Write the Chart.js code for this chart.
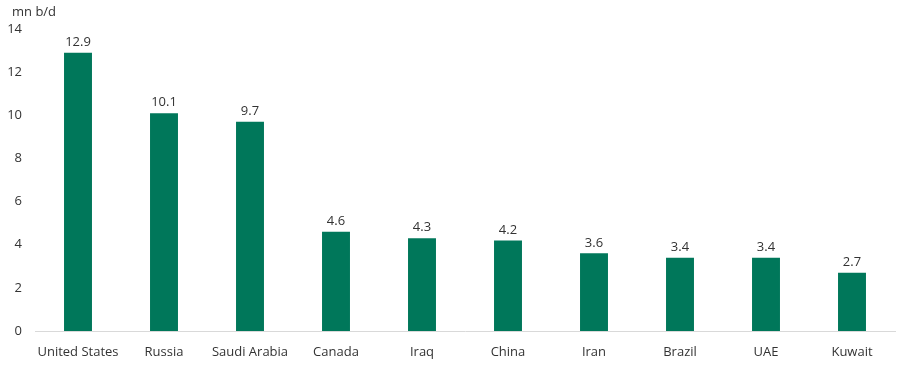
<!DOCTYPE html>
<html><head><meta charset="utf-8">
<script src="https://cdn.jsdelivr.net/npm/chart.js@4/dist/chart.umd.min.js"></script>
<style>html,body{margin:0;padding:0;background:#fff}#wrap{width:900px;height:366px}</style>
</head><body><div id="wrap"><canvas id="c" width="900" height="366"></canvas></div>
<script>
const categories = ["United States","Russia","Saudi Arabia","Canada","Iraq","China","Iran","Brazil","UAE","Kuwait"];
const production = [12.9,10.1,9.7,4.6,4.3,4.2,3.6,3.4,3.4,2.7];
const yTicks = [0,2,4,6,8,10,12,14];
const unitLabel = "mn b/d";

const FONT = "'Open Sans', 'Noto Sans', sans-serif";
const TXT = '#333333';

const labelsPlugin = {
  id: 'valueLabels',
  afterDatasetsDraw(chart) {
    const ctx = chart.ctx;
    const meta = chart.getDatasetMeta(0);
    ctx.save();
    ctx.font = "13px " + FONT;
    ctx.fillStyle = TXT;
    ctx.textAlign = 'center';
    ctx.textBaseline = 'bottom';
    meta.data.forEach((bar, i) => {
      ctx.fillText(production[i].toFixed(1), bar.x, bar.y - 4);
    });
    ctx.textAlign = 'left';
    ctx.textBaseline = 'middle';
    ctx.fillText(unitLabel, 12, 12);
    ctx.restore();
  }
};

new Chart(document.getElementById('c'), {
  type: 'bar',
  data: {
    labels: categories,
    datasets: [{
      data: production,
      backgroundColor: '#00775a',
      barPercentage: 0.65,
      categoryPercentage: 0.5
    }]
  },
  options: {
    responsive: false,
    animation: false,
    devicePixelRatio: 1,
    layout: { padding: { top: 29, right: 5, left: 0, bottom: 0 } },
    plugins: { legend: { display: false }, tooltip: { enabled: false } },
    scales: {
      x: {
        grid: { display: false },
        border: { display: true, color: '#d9d9d9', width: 1 },
        ticks: { color: TXT, font: { family: FONT, size: 13 }, padding: 5, maxRotation: 0 },
        afterFit(s) { s.height = 35; }
      },
      y: {
        min: 0, max: 14,
        grid: { display: false },
        border: { display: false },
        afterBuildTicks(s) { s.ticks = yTicks.map(v => ({ value: v })); },
        ticks: { color: TXT, font: { family: FONT, size: 13 }, padding: 5 },
        afterFit(s) { s.width = 35; }
      }
    }
  },
  plugins: [labelsPlugin]
});
</script></body></html>
